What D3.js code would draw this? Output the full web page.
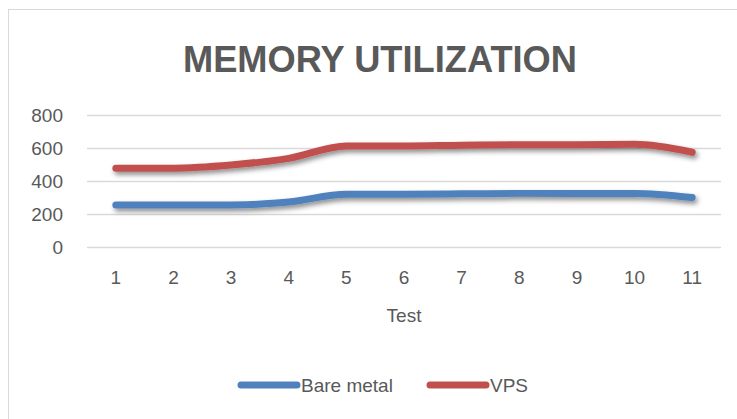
<!DOCTYPE html>
<html>
<head>
<meta charset="utf-8">
<script src="https://cdn.jsdelivr.net/npm/d3@7"></script>
<style>
  body { margin: 0; background: #fff; }
  text { font-family: "Liberation Sans", Arial, sans-serif; fill: #595959; }
</style>
</head>
<body>
<div id="chart"></div>
<script>
// chart data
const tests = ["1", "2", "3", "4", "5", "6", "7", "8", "9", "10", "11"];
const bareMetal = [255, 255, 255, 273, 320, 320, 322, 325, 325, 325, 300];
const vps = [478, 478, 497, 537, 612, 612, 617, 620, 620, 622, 574];
const yTicks = [0, 200, 400, 600, 800];

const svgWidth = 737;
const svgHeight = 419;

const margin = { top: 115, right: 16, bottom: 172, left: 87 };
const width = svgWidth - margin.left - margin.right;
const height = svgHeight - margin.top - margin.bottom;

const svg = d3.select("#chart")
  .append("svg")
  .attr("width", svgWidth)
  .attr("height", svgHeight);

// chart border
svg.append("rect")
  .attr("x", 8.5)
  .attr("y", 9.5)
  .attr("width", svgWidth)
  .attr("height", svgHeight)
  .attr("fill", "none")
  .attr("stroke", "#d9d9d9");

// title
svg.append("text")
  .attr("x", 380)
  .attr("y", 72)
  .attr("text-anchor", "middle")
  .attr("font-size", 37)
  .attr("font-weight", "bold")
  .attr("textLength", 394)
  .attr("lengthAdjust", "spacingAndGlyphs")
  .text("MEMORY UTILIZATION");

const defs = svg.append("defs");
const shadow = defs.append("filter")
  .attr("id", "shadow")
  .attr("x", "-10%").attr("y", "-50%")
  .attr("width", "120%").attr("height", "300%");
shadow.append("feDropShadow")
  .attr("dx", 2).attr("dy", 3)
  .attr("stdDeviation", 2.5)
  .attr("flood-color", "#000")
  .attr("flood-opacity", 0.45);

const chartGroup = svg.append("g")
  .attr("transform", `translate(${margin.left}, ${margin.top})`);

const xScale = d3.scaleBand()
  .domain(tests)
  .range([0, width]);

const yScale = d3.scaleLinear()
  .domain([0, 800])
  .range([height, 0]);

// gridlines
chartGroup.selectAll(".grid")
  .data(yTicks)
  .enter()
  .append("line")
  .attr("x1", 0)
  .attr("x2", width)
  .attr("y1", d => Math.round(yScale(d)) + 0.5)
  .attr("y2", d => Math.round(yScale(d)) + 0.5)
  .attr("stroke", "#d9d9d9")
  .attr("stroke-width", 1.5);

// y axis labels
const leftAxis = d3.axisLeft(yScale).tickValues(yTicks).tickSize(0).tickPadding(24);
const yAxis = chartGroup.append("g").call(leftAxis);
yAxis.select(".domain").remove();
yAxis.selectAll("text")
  .attr("font-size", 19)
  .style("fill", "#595959")
  .style("font-family", "'Liberation Sans', sans-serif");

// x axis labels
const bottomAxis = d3.axisBottom(xScale).tickSize(0).tickPadding(24);
const xAxis = chartGroup.append("g")
  .attr("transform", `translate(0, ${height})`)
  .call(bottomAxis);
xAxis.select(".domain").remove();
xAxis.selectAll("text")
  .attr("font-size", 19)
  .style("fill", "#595959")
  .style("font-family", "'Liberation Sans', sans-serif");

// x axis title
chartGroup.append("text")
  .attr("x", width / 2)
  .attr("y", height + 75)
  .attr("text-anchor", "middle")
  .attr("font-size", 19)
  .text("Test");

const series = [
  { name: "Bare metal", values: bareMetal, color: "#4f81bd" },
  { name: "VPS", values: vps, color: "#c0504d" }
];

const line = d3.line()
  .x((d, i) => xScale(tests[i]) + xScale.bandwidth() / 2)
  .y(d => yScale(d))
  .curve(d3.curveMonotoneX);

series.forEach(s => {
  chartGroup.append("path")
    .datum(s.values)
    .attr("d", line)
    .attr("fill", "none")
    .attr("stroke", s.color)
    .attr("stroke-width", 7)
    .attr("stroke-linecap", "round")
    .attr("stroke-linejoin", "round")
    .attr("filter", "url(#shadow)");
});

// legend
const legendPos = [241, 430];
const legend = svg.selectAll(".legend")
  .data(series)
  .enter()
  .append("g")
  .attr("transform", (d, i) => `translate(${legendPos[i]}, 385)`);

legend.append("line")
  .attr("x1", 0)
  .attr("x2", 56)
  .attr("y1", 0)
  .attr("y2", 0)
  .attr("stroke", d => d.color)
  .attr("stroke-width", 7)
  .attr("stroke-linecap", "round");

legend.append("text")
  .attr("x", 60)
  .attr("y", 7)
  .attr("font-size", 19)
  .text(d => d.name);
</script>
</body>
</html>
